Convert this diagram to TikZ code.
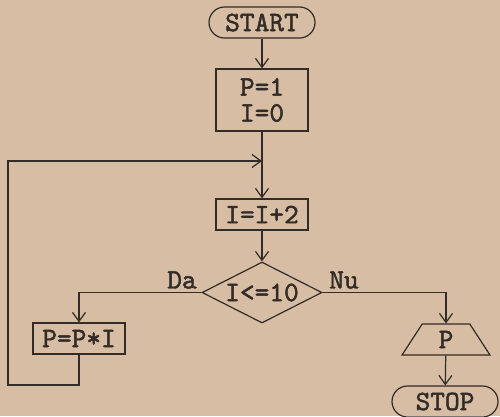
\documentclass[tikz,border=0pt]{standalone}
\usepackage{fontspec}
\newfontfamily\courfont{lmmono10-regular.otf}[FakeBold=1.6]
\usetikzlibrary{arrows.meta,shapes.geometric}
\definecolor{paper}{RGB}{214,189,164}
\definecolor{ink}{RGB}{50,43,38}
\tikzset{
  every node/.style={font=\courfont\fontsize{28}{26}\selectfont, text=ink},
  term/.style={draw=ink, line width=1.2pt, rounded corners=15.5pt, minimum width=106pt, minimum height=31pt, inner sep=0pt},
  proc/.style={draw=ink, line width=1.2pt, minimum width=92pt, minimum height=31pt, inner sep=0pt, align=center},
  cond/.style={draw=ink, line width=1.2pt, diamond, aspect=2, minimum width=120pt, minimum height=61pt, inner sep=0pt},
  iobox/.style={draw=ink, line width=1.2pt, trapezium, trapezium left angle=70, trapezium right angle=70, trapezium stretches=true, minimum width=88pt, minimum height=31pt, inner sep=0pt},
  flow/.style={draw=ink, line width=1.2pt, -{Straight Barb[length=9pt,width=13pt,line width=1.2pt]}},
  line/.style={draw=ink, line width=1.2pt}
}
\begin{document}
\begin{tikzpicture}[x=1pt,y=-1pt]
\fill[paper] (0,0) rectangle (500,416);
\useasboundingbox (0,0) rectangle (500,416);
\node[term] (start) at (262,22.5) {START};
\node[proc, minimum height=62pt] (init) at (262,100) {P=1\\I=0};
\node[proc] (inc) at (262,214.5) {I=I+2};
\node[cond] (dec) at (262,292.5) {\makebox[0pt]{I<=10}};
\node[proc] (mul) at (79,338.5) {P=P*I};
\node[iobox] (out) at (446,339.5) {P};
\node[term] (stop) at (445,401.5) {STOP};
\node (da) at (182,280) {Da};
\node (nu) at (344,280) {Nu};
\coordinate (join) at (262,161);
\coordinate (lb) at (79,385);
\coordinate (lc) at (8,385);
\coordinate (lt) at (8,161);
\draw[flow] (start) -- (init);
\draw[line] (init) -- (join);
\draw[flow] (join) -- (inc);
\draw[flow] (inc) -- (dec);
\draw[flow] (dec.west) -| (mul.north);
\draw[flow] (dec.east) -| (out.north);
\draw[flow] (out) -- (stop);
\draw[flow] (mul.south) -- (lb) -- (lc) -- (lt) -- (join);
\end{tikzpicture}
\end{document}
